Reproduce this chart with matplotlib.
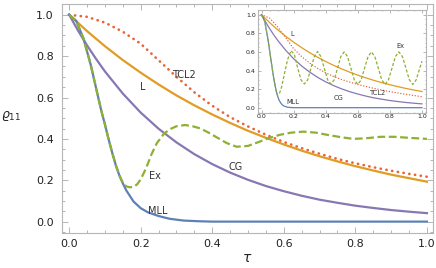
import matplotlib
matplotlib.use("Agg")
import matplotlib.pyplot as plt
from matplotlib.ticker import MultipleLocator

# ---------------- data ----------------
# main panel
L_x = [0, .05, .1, .15, .2, .25, .3, .35, .4, .45, .5, .55, .6, .65, .7, .75, .8, .85, .9, .95, 1.0]
L_y = [1.0, .921, .848, .781, .72, .663, .61, .562, .518, .477, .439, .405, .373, .343, .316, .291, .268, .247, .227, .21, .193]

TCL2_x = [0, .05, .1, .15, .2, .25, .3, .35, .4, .45, .5, .55, .6, .65, .7, .75, .8, .85, .9, .95, 1.0]
TCL2_y = [1.0, .99, .962, .918, .86, .78, .70, .625, .56, .505, .46, .42, .385, .355, .328, .303, .282, .263, .246, .231, .217]

CG_x = [0, .025, .05, .075, .1, .15, .2, .25, .3, .35, .4, .45, .5, .55, .6, .65, .7, .75, .8, .85, .9, .95, 1.0]
CG_y = [1.0, .923, .852, .787, .726, .619, .527, .449, .383, .326, .278, .237, .202, .172, .147, .125, .106, .091, .077, .066, .056, .048, .041]

MLL_x = [0, .02, .04, .06, .08, .09, .1, .11, .12, .13, .14, .15, .16, .18, .2, .22, .25, .28, .32, .36, .4, .5, 1.0]
MLL_y = [1.0, .97, .885, .76, .61, .535, .47, .4, .335, .275, .225, .185, .15, .097, .065, .045, .027, .014, .005, .002, 0.0, 0.0, 0.0]

Ex_x = [0, .02, .04, .06, .08, .09, .1, .11, .12, .13, .14, .15, .16, .17, .18, .19, .2, .21, .22, .23,
        .245, .265, .283, .3, .324, .345, .366, .39, .415, .44, .468, .5, .53, .56, .59, .62, .655, .69,
        .72, .76, .794, .83, .87, .91, .95, 1.0]
Ex_y = [1.0, .97, .885, .76, .61, .535, .47, .4, .335, .275, .225, .187, .17, .166, .168, .18, .205, .24, .28, .325,
        .379, .425, .448, .461, .467, .461, .451, .43, .405, .38, .362, .366, .385, .405, .42, .43, .435, .43,
        .42, .408, .40, .403, .41, .41, .405, .40]

# inset panel
Li_x = [0, .05, .1, .15, .2, .25, .3, .35, .4, .45, .5, .55, .6, .65, .7, .75, .8, .85, .9, .95, 1.0]
Li_y = [1.0, .916, .839, .769, .705, .646, .592, .542, .497, .455, .417, .382, .35, .321, .294, .269, .247, .226, .207, .19, .174]

TCL2i_x = [0, .05, .1, .15, .2, .25, .3, .35, .4, .45, .5, .55, .6, .65, .7, .75, .8, .85, .9, .95, 1.0]
TCL2i_y = [1.0, .965, .87, .755, .635, .55, .48, .422, .375, .335, .303, .275, .25, .228, .208, .19, .173, .158, .144, .131, .118]

CGi_x = [0, .025, .05, .075, .1, .15, .2, .25, .3, .35, .4, .45, .5, .55, .6, .65, .7, .75, .8, .85, .9, .95, 1.0]
CGi_y = [1.0, .923, .852, .787, .726, .619, .527, .449, .383, .326, .278, .237, .202, .172, .147, .125, .106, .091, .077, .066, .056, .048, .041]

MLLi_x = [0, .02, .04, .06, .07, .08, .09, .1, .11, .12, .13, .14, .16, .18, .2, 1.0]
MLLi_y = [1.0, .93, .74, .5, .385, .28, .19, .125, .08, .05, .03, .018, .006, .002, 0.0, 0.0]

Exi_x = [0, .02, .04, .06, .07, .08, .09, .1, .11, .125, .142, .163, .184, .205, .225, .246, .267, .288, .308,
         .329, .349, .37, .391, .412, .432, .453, .474, .494, .515, .536, .557, .578, .6, .621, .642, .664,
         .685, .706, .728, .749, .77, .791, .813, .834, .856, .878, .9, .921, .943, .964, .986, 1.0]
Exi_y = [1.0, .93, .74, .5, .385, .28, .19, .135, .145, .22, .36, .52, .615, .57, .43, .3, .255, .3, .425,
         .55, .605, .55, .425, .3, .255, .3, .425, .55, .6, .55, .425, .3, .25, .3, .425, .55,
         .6, .55, .425, .3, .25, .3, .425, .55, .6, .55, .425, .3, .25, .3, .425, .5]

x_ticks = [0.0, 0.2, 0.4, 0.6, 0.8, 1.0]
y_ticks = [0.0, 0.2, 0.4, 0.6, 0.8, 1.0]

# ---------------- style ----------------
BLUE, ORANGE, GREEN, RED, PURPLE = "#5E81B5", "#E19C24", "#8FB032", "#EB6235", "#8778B3"
FRAME = "#B5B5B5"
TXT = "#333333"

fig = plt.figure(figsize=(4.36, 2.68), dpi=100)

def style_axes(ax, fs, major_len, minor_len, pad_x, pad_y):
    for s in ax.spines.values():
        s.set_color(FRAME)
        s.set_linewidth(0.8)
    ax.set_xticks(x_ticks)
    ax.set_yticks(y_ticks)
    ax.set_xticklabels([f"{v:.1f}" for v in x_ticks])
    ax.set_yticklabels([f"{v:.1f}" for v in y_ticks])
    ax.xaxis.set_minor_locator(MultipleLocator(0.05))
    ax.yaxis.set_minor_locator(MultipleLocator(0.05))
    ax.tick_params(which="both", direction="in", top=True, right=True, color=FRAME, width=0.7)
    ax.tick_params(which="major", length=major_len)
    ax.tick_params(which="minor", length=minor_len)
    ax.tick_params(axis="x", labelsize=fs, labelcolor="#222222", pad=pad_x)
    ax.tick_params(axis="y", labelsize=fs, labelcolor="#222222", pad=pad_y)

# ---------------- main axes ----------------
ax = fig.add_axes([62 / 436, 1 - 233 / 268, (433 - 62) / 436, (233 - 4) / 268])
ax.set_xlim(-0.02, 1.017)
ax.set_ylim(-0.055, 1.052)
style_axes(ax, 8, 4, 2, 4, 6)

lw = 1.6
ax.plot(L_x, L_y, color=ORANGE, lw=lw)
ax.plot(CG_x, CG_y, color=PURPLE, lw=lw)
ax.plot(TCL2_x, TCL2_y, color=RED, lw=1.9, linestyle=(0, (0.1, 2.1)), dash_capstyle="round")
ax.plot(MLL_x, MLL_y, color=BLUE, lw=lw)
ax.plot(Ex_x, Ex_y, color=GREEN, lw=lw, linestyle=(0, (3.5, 1.6)))

lab_kw = dict(fontsize=7, color=TXT, ha="center", va="center")
ax.text(0.32, 0.71, "TCL2", **lab_kw)
ax.text(0.205, 0.65, "L", **lab_kw)
ax.text(0.464, 0.266, "CG", **lab_kw)
ax.text(0.24, 0.221, "Ex", **lab_kw)
ax.text(0.249, 0.049, "MLL", **lab_kw)

fig.text(11 / 436, 1 - 116 / 268, r"$\varrho_{11}$", fontsize=9, ha="center", va="center", color="#222222")
fig.text(247.5 / 436, 1 - 258 / 268, r"$\tau$", fontsize=10, ha="center", va="center", color="#222222")

# ---------------- inset ----------------
axi = fig.add_axes([257.5 / 436, 1 - 112.8 / 268, (426 - 257.5) / 436, (112.8 - 9.9) / 268])
axi.set_facecolor("white")
axi.set_xlim(-0.025, 1.025)
axi.set_ylim(-0.055, 1.052)
style_axes(axi, 4.5, 2, 1, 1.2, 1.2)

lwi = 0.9
axi.plot(Li_x, Li_y, color=ORANGE, lw=lwi)
axi.plot(CGi_x, CGi_y, color=PURPLE, lw=lwi)
axi.plot(TCL2i_x, TCL2i_y, color=RED, lw=1.0, linestyle=(0, (0.1, 2.0)), dash_capstyle="round")
axi.plot(MLLi_x, MLLi_y, color=BLUE, lw=lwi)
axi.plot(Exi_x, Exi_y, color=GREEN, lw=lwi, linestyle=(0, (2.5, 1.5)))

labi_kw = dict(fontsize=4.8, color=TXT, ha="center", va="center")
axi.text(0.193, 0.79, "L", **labi_kw)
axi.text(0.863, 0.66, "Ex", **labi_kw)
axi.text(0.477, 0.10, "CG", **labi_kw)
axi.text(0.729, 0.158, "TCL2", **labi_kw)
axi.text(0.196, 0.06, "MLL", **labi_kw)

fig.savefig("out.png", dpi=100)
